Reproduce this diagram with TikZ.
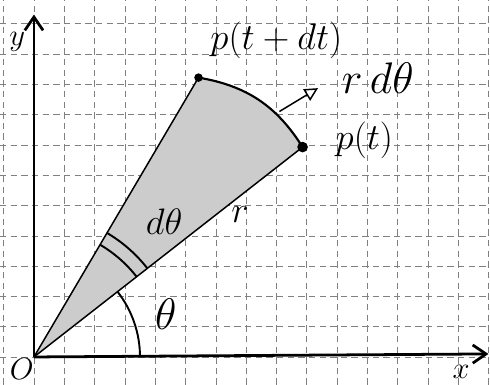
\documentclass[tikz,border=0pt]{standalone}
\usepackage{amsmath}
\usetikzlibrary{arrows.meta,positioning}

\begin{document}
\begin{tikzpicture}[x=0.5cm, y=0.5cm,
  every node/.style={font=\LARGE},
  gridline/.style={black!50, densely dashed, very thin},
  axis/.style={line width=1.3pt, -{Straight Barb[length=2.2mm, width=3mm]}},
  ray/.style={line width=0.7pt},
  sector/.style={fill=black!20},
  dot/.style={circle, fill=black, inner sep=0pt, minimum size=5pt},
  angarc/.style={line width=0.9pt},
  pointer/.style={-{Triangle[open, length=2.2mm, width=2.2mm]}, line width=0.7pt, shorten >=9pt},
]
  \useasboundingbox (-1.12,-0.92) rectangle (15.05,11.78);

  % graph paper
  \foreach \i in {-1,...,15} \draw[gridline] (\i,-0.92) -- (\i,11.78);
  \foreach \j in {0,...,11} \draw[gridline] (-1.12,\j) -- (15.05,\j);

  % sector between p(t) and p(t+dt)
  \coordinate (o)   at (0,0);
  \coordinate (p)   at (38:11.25);
  \coordinate (pdt) at (59.5:10.7);
  \fill[sector] (o) -- (p) to[bend right=24] (pdt) -- cycle;
  \draw[ray] (o) -- (p);
  \draw[ray] (o) -- (pdt);
  \draw[line width=1pt] (p) to[bend right=24] (pdt);
  \node[dot] (pdot) at (p) {};
  \node[dot, minimum size=4pt] (pdtdot) at (pdt) {};

  % axes
  \draw[axis] (o) -- (0,11.3);
  \draw[axis] (o) -- (15,0.1);
  \node[font=\Large] (ylab) at (-0.55,10.4) {$y$};
  \node[font=\Large] (xlab) at (14.1,-0.5) {$x$};
  \node[font=\Large] (olab) at (-0.4,-0.4) {$O$};

  % angles
  \draw[angarc] (3.5,0) arc[start angle=0, end angle=38, radius=3.5];
  \draw[angarc] (38:4.3) arc[start angle=38, end angle=59.5, radius=4.3];
  \draw[angarc] (38:4.75) arc[start angle=38, end angle=59.5, radius=4.75];
  \node[font=\huge] (th) at (4.35,1.4) {$\theta$};
  \node (dth)  at (4.3,4.45) {$d\theta$};
  \node (rlab) at (6.8,4.7) {$r$};

  % labels of the points
  \node (plab)   at (10.9,7.15) {$p(t)$};
  \node (pdtlab) at (8.0,10.45) {$p(t+dt)$};
  \node[font=\huge] (rdth) at (11.35,9.2) {$r\,d\theta$};
  \coordinate (rdtail) at (8.1,8.1);
  \draw[pointer] (rdtail) -- (rdth.west);
\end{tikzpicture}
\end{document}
